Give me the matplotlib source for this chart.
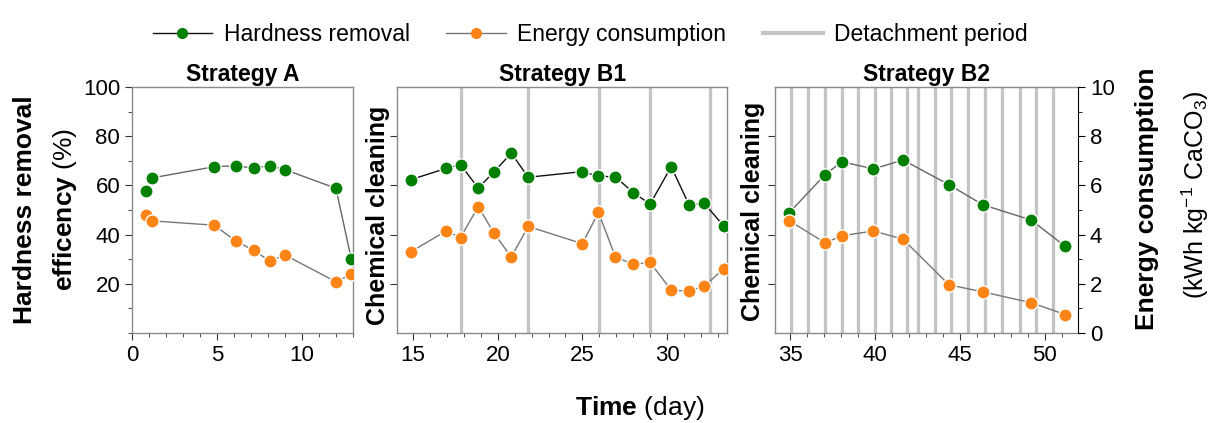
import matplotlib
matplotlib.use('Agg')
import matplotlib.pyplot as plt
from matplotlib.ticker import MultipleLocator
from matplotlib.lines import Line2D

plt.rcParams['font.family'] = ['Liberation Sans', 'DejaVu Sans']
plt.rcParams['mathtext.fontset'] = 'custom'
plt.rcParams['mathtext.rm'] = 'Liberation Sans'
plt.rcParams['mathtext.bf'] = 'Liberation Sans:bold'

# Strategy A
a_days = [0.85, 1.15, 4.85, 6.1, 7.15, 8.1, 9.0, 12.0, 12.9]
a_hard = [57.8, 63.0, 67.6, 68.0, 67.0, 68.0, 66.4, 58.8, 30.2]
a_energy = [4.79, 4.56, 4.38, 3.74, 3.36, 2.93, 3.17, 2.08, 2.38]

# Strategy B1
b1_days = [14.85, 16.95, 17.8, 18.85, 19.75, 20.8, 21.8, 25.0,
           25.95, 26.95, 28.0, 29.0, 30.25, 31.3, 32.2, 33.35]
b1_hard = [62.3, 66.9, 68.4, 58.9, 65.3, 73.1, 63.3, 65.6,
           63.7, 63.5, 57.1, 52.4, 67.6, 52.1, 52.7, 43.5]
b1_energy = [3.29, 4.15, 3.88, 5.14, 4.08, 3.09, 4.33, 3.63,
             4.90, 3.10, 2.79, 2.87, 1.74, 1.70, 1.90, 2.61]
b1_detach = [17.8, 21.8, 26.0, 29.0, 32.55]

# Strategy B2
b2_days = [34.95, 37.05, 38.05, 39.9, 41.65, 44.35, 46.35, 49.2, 51.2]
b2_hard = [48.9, 64.4, 69.6, 66.7, 70.3, 60.3, 52.1, 45.9, 35.2]
b2_energy = [4.56, 3.67, 3.95, 4.15, 3.81, 1.96, 1.67, 1.23, 0.75]
b2_detach = [35.05, 36.05, 37.05, 38.05, 39.0, 40.0, 40.95, 41.85, 42.55,
             43.55, 44.5, 45.5, 46.5, 47.5, 48.55, 49.5, 50.5]

GREEN = '#008000'
ORANGE = '#FF8418'
DETACH = '#c4c4c4'
SPINE = '#8a8a8a'
FS = 16

fig = plt.figure(figsize=(12.12, 4.23), dpi=100)
bottom, height = 0.2128, 0.5816
axA = fig.add_axes([0.1089, bottom, 0.1823, height])
axB1 = fig.add_axes([0.3276, bottom, 0.2723, height])
axB2 = fig.add_axes([0.6394, bottom, 0.2500, height])


def panel(ax, days, hard, energy, detach, xlim, xmajor, title, green_line):
    for d in detach:
        ax.axvline(d, color=DETACH, lw=2.4, zorder=1)
    ax.plot(days, hard, '-o', color=green_line, lw=1, mfc=GREEN, mec='white',
            mew=1, ms=9.5, zorder=3)
    ax.set_xlim(*xlim)
    ax.set_ylim(0, 100)
    ax.xaxis.set_minor_locator(MultipleLocator(1))
    ax.set_xticks(xmajor)
    for s in ax.spines.values():
        s.set_color(SPINE)
        s.set_linewidth(1)
    ax.tick_params(axis='both', which='both', direction='out', color='#333333',
                   labelsize=FS)
    ax.tick_params(axis='both', which='major', length=5)
    ax.tick_params(axis='both', which='minor', length=3)
    ax.set_title(title, fontsize=16.5, fontweight='bold', pad=4)
    tw = ax.twinx()
    tw.plot(days, energy, '-o', color='#777777', lw=1, mfc=ORANGE, mec='white',
            mew=1, ms=9.5, zorder=3)
    tw.set_ylim(0, 10)
    tw.set_xlim(*xlim)
    tw.set_yticks([])
    for s in tw.spines.values():
        s.set_visible(False)
    return tw


panel(axA, a_days, a_hard, a_energy, [], (0, 13), [0, 5, 10], 'Strategy A', '#666666')
axA.set_yticks([20, 40, 60, 80, 100])
axA.yaxis.set_minor_locator(MultipleLocator(10))

panel(axB1, b1_days, b1_hard, b1_energy, b1_detach, (14.05, 33.55),
      [15, 20, 25, 30], 'Strategy B1', '#111111')
axB1.set_yticks([20, 40, 60, 80])
axB1.set_yticklabels([])

twB2 = panel(axB2, b2_days, b2_hard, b2_energy, b2_detach, (34.1, 51.95),
             [35, 40, 45, 50], 'Strategy B2', '#666666')
axB2.set_yticks([20, 40, 60, 80])
axB2.set_yticklabels([])
axB2.spines['right'].set_visible(False)
twB2.spines['right'].set_visible(True)
twB2.spines['right'].set_color('black')
twB2.yaxis.set_major_locator(MultipleLocator(2))
twB2.yaxis.set_minor_locator(MultipleLocator(1))
twB2.tick_params(axis='y', which='both', direction='out', color='black', labelsize=FS)
twB2.tick_params(axis='y', which='major', length=5)
twB2.tick_params(axis='y', which='minor', length=3)

# axis labels
fig.text(0.021, 0.505, 'Hardness removal', rotation=90, ha='center', va='center',
         fontsize=19, fontweight='bold')
fig.text(0.054, 0.505, r'$\mathbf{efficency}$ (%)', rotation=90, ha='center',
         va='center', fontsize=19)
fig.text(0.312, 0.49, 'Chemical cleaning', rotation=90, ha='center', va='center',
         fontsize=18, fontweight='bold')
fig.text(0.621, 0.50, 'Chemical cleaning', rotation=90, ha='center', va='center',
         fontsize=18, fontweight='bold')
fig.text(0.946, 0.53, 'Energy consumption', rotation=90, ha='center', va='center',
         fontsize=19, fontweight='bold')
fig.text(0.986, 0.54, r'(kWh kg$^{-1}$ CaCO$_3$)', rotation=90, ha='center',
         va='center', fontsize=18)
fig.text(0.528, 0.035, r'$\mathbf{Time}$ (day)', ha='center', va='center', fontsize=19)

handles = [
    Line2D([], [], color='#111111', lw=1, marker='o', mfc=GREEN, mec=GREEN, ms=7),
    Line2D([], [], color='#777777', lw=1, marker='o', mfc=ORANGE, mec=ORANGE, ms=7),
    Line2D([], [], color=DETACH, lw=3),
]
fig.legend(handles, ['Hardness removal', 'Energy consumption', 'Detachment period'],
           loc='upper center', bbox_to_anchor=(0.487, 0.995), ncol=3, frameon=False,
           fontsize=16.5, handlelength=2.6, columnspacing=1.6, handletextpad=0.5)

fig.savefig('out.png', dpi=100)
